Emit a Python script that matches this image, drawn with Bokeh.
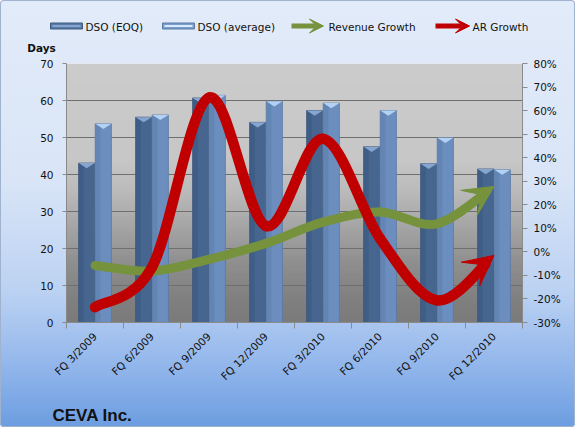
import numpy as np
from bokeh.plotting import figure
from bokeh.layouts import column
from bokeh.models import (Range1d, LinearAxis, FixedTicker, PrintfTickFormatter,
                          Label, Arrow, VeeHead)
from bokeh.embed import file_html
from bokeh.resources import INLINE

# ---------------- data ----------------
categories = ["FQ 3/2009", "FQ 6/2009", "FQ 9/2009", "FQ 12/2009",
              "FQ 3/2010", "FQ 6/2010", "FQ 9/2010", "FQ 12/2010"]
dso_eoq = [43.1, 55.5, 60.7, 54.1, 57.3, 47.5, 42.9, 41.5]
dso_avg = [53.7, 56.1, 61.4, 59.8, 59.3, 57.3, 49.9, 41.3]
revenue_growth = [-5.8, -8.2, -3.2, 3.6, 12.6, 16.9, 11.9, 27.8]
ar_growth = [-23.5, -6.5, 65.5, 11.0, 48.0, 5.7, -20.6, -1.5]
days_ticks = [0, 10, 20, 30, 40, 50, 60, 70]
pct_ticks = [-30, -20, -10, 0, 10, 20, 30, 40, 50, 60, 70, 80]
series_names = ["DSO (EOQ)", "DSO (average)", "Revenue Growth", "AR Growth"]
title_text = "CEVA Inc."
y_title = "Days"

# ---------------- styles ----------------
EOQ_COLOR = "#46668f"
AVG_COLOR = "#6b8ebe"
GREEN = "#76923c"
RED = "#c00000"
FONT = "DejaVu Sans"
TXT = "#111111"
W = 575
HEAD_H, MAIN_H, FOOT_H = 56, 334, 37

n = len(categories)
centers = [i + 0.5 for i in range(n)]


def no_align(f):
    try:
        f.frame_align = False
    except Exception:
        pass


def blank(height):
    f = figure(width=W, height=height, output_backend="svg", toolbar_location=None,
               x_range=Range1d(0, W), y_range=Range1d(height, 0),
               x_axis_type=None, y_axis_type=None, min_border=0,
               min_border_left=0, min_border_right=0,
               min_border_top=0, min_border_bottom=0)
    f.grid.visible = False
    f.outline_line_color = None
    f.background_fill_alpha = 0
    f.border_fill_alpha = 0
    no_align(f)
    return f


# ---------------- header: legend + "Days" ----------------
head = blank(HEAD_H)
LY = 25.5
# swatches: outer box + lighter inner band
head.quad(left=[50, 162], right=[82, 194], top=[LY - 3, LY - 3], bottom=[LY + 3, LY + 3],
          fill_color=["#587aa6", "#7b9dca"], line_color=["#3e5a80", "#5a7aa5"], line_width=1)
head.quad(left=[52, 164], right=[80, 192], top=[LY - 1, LY - 1], bottom=[LY + 1, LY + 1],
          fill_color=["#86a4cd", "#d6e9fd"], line_color=None)
head.add_layout(Arrow(x_start=291, y_start=LY, x_end=323, y_end=LY,
                      line_color=GREEN, line_width=5,
                      end=VeeHead(size=14, fill_color=GREEN, line_color=GREEN)))
head.add_layout(Arrow(x_start=435, y_start=LY, x_end=469, y_end=LY,
                      line_color=RED, line_width=5,
                      end=VeeHead(size=14, fill_color=RED, line_color=RED)))
for x, txt in zip([85, 197, 328, 472], series_names):
    head.add_layout(Label(x=x, y=LY + 0.5, text=txt, text_font=FONT,
                          text_font_size="10.5px", text_color=TXT,
                          text_baseline="middle", text_align="left"))
head.add_layout(Label(x=41, y=47, text=y_title, text_font=FONT,
                      text_font_size="10.5px", text_font_style="bold",
                      text_color=TXT, text_baseline="middle", text_align="center"))

# ---------------- main chart ----------------
p = figure(width=W, height=MAIN_H, output_backend="svg", toolbar_location=None,
           x_range=Range1d(0, n), y_range=Range1d(days_ticks[0], days_ticks[-1]),
           min_border_left=66, min_border_right=53, min_border_top=7,
           min_border_bottom=68)
no_align(p)
p.extra_y_ranges = {"pct": Range1d(pct_ticks[0], pct_ticks[-1])}
p.border_fill_alpha = 0
p.outline_line_color = None

# plot-area gray gradient (decorative)
rows = 140
vals = np.linspace(days_ticks[0], days_ticks[-1], rows)
gray = np.interp(vals, [0, 6, 16, 26, 36, 44, 70],
                 [0x7b, 0x80, 0x8f, 0xa6, 0xbc, 0xc7, 0xcc]).astype(np.uint8)
img = np.empty((rows, 1), dtype=np.uint32)
v = img.view(dtype=np.uint8).reshape((rows, 1, 4))
v[:, 0, 0] = gray
v[:, 0, 1] = gray
v[:, 0, 2] = gray
v[:, 0, 3] = 255
bg = p.image_rgba(image=[img], x=0, y=days_ticks[0], dw=n,
                  dh=days_ticks[-1] - days_ticks[0])
bg.level = "image"

p.xgrid.visible = False
p.ygrid.ticker = FixedTicker(ticks=days_ticks)
p.ygrid.grid_line_color = "#6f6f6f"
p.ygrid.grid_line_width = 1

# bars
bw = 0.285
off = 0.146
x_eoq = [c - off for c in centers]
x_avg = [c + off for c in centers]
p.vbar(x=x_eoq, top=dso_eoq, bottom=0, width=bw,
       fill_color=EOQ_COLOR, line_color="#3a5679", line_alpha=0.7)
p.vbar(x=x_avg, top=dso_avg, bottom=0, width=bw,
       fill_color=AVG_COLOR, line_color="#56769f", line_alpha=0.7)
p.vbar(x=[x - bw * 0.33 for x in x_eoq], top=dso_eoq, bottom=0, width=bw * 0.3,
       fill_color="#3a5882", line_color=None, fill_alpha=0.6)
p.vbar(x=[x - bw * 0.33 for x in x_avg], top=dso_avg, bottom=0, width=bw * 0.3,
       fill_color="#5c7fae", line_color=None, fill_alpha=0.6)

# light triangular caps at the top of each bar (cylinder look)
cap_h = 1.4  # days
for xs_, tops, col in [(x_eoq, dso_eoq, "#86a5cf"), (x_avg, dso_avg, "#b2d1f3")]:
    p.patches(xs=[[x - bw / 2, x + bw / 2, x] for x in xs_],
              ys=[[t, t, t - cap_h] for t in tops],
              fill_color=col, line_color=None)


def bezier_segments(xs, ys):
    segs = []
    m = len(xs)
    for i in range(m - 1):
        xp, yp = (xs[i - 1], ys[i - 1]) if i > 0 else (xs[i], ys[i])
        xn, yn = (xs[i + 2], ys[i + 2]) if i + 2 < m else (xs[i + 1], ys[i + 1])
        c0 = (xs[i] + (xs[i + 1] - xp) / 6.0, ys[i] + (ys[i + 1] - yp) / 6.0)
        c1 = (xs[i + 1] - (xn - xs[i]) / 6.0, ys[i + 1] - (yn - ys[i]) / 6.0)
        segs.append(((xs[i], ys[i]), c0, c1, (xs[i + 1], ys[i + 1])))
    return segs


def split(seg, t):
    p0, p1, p2, p3 = [np.array(q, dtype=float) for q in seg]
    a = p0 + (p1 - p0) * t
    b = p1 + (p2 - p1) * t
    c = p2 + (p3 - p2) * t
    d = a + (b - a) * t
    e = b + (c - b) * t
    f = d + (e - d) * t
    return (tuple(p0), tuple(a), tuple(d), tuple(f))


def draw_curve(ys, color, lw, head_size):
    segs = bezier_segments(centers, ys)
    last = segs[-1]
    segs_draw = segs[:-1] + [split(last, 0.78)]
    p.bezier(x0=[s[0][0] for s in segs_draw], y0=[s[0][1] for s in segs_draw],
             cx0=[s[1][0] for s in segs_draw], cy0=[s[1][1] for s in segs_draw],
             cx1=[s[2][0] for s in segs_draw], cy1=[s[2][1] for s in segs_draw],
             x1=[s[3][0] for s in segs_draw], y1=[s[3][1] for s in segs_draw],
             line_color=color, line_width=lw, line_cap="round", y_range_name="pct")
    p.add_layout(Arrow(x_start=last[2][0], y_start=last[2][1],
                       x_end=last[3][0], y_end=last[3][1], y_range_name="pct",
                       line_alpha=0,
                       end=VeeHead(size=head_size, fill_color=color, line_color=color)))


draw_curve(revenue_growth, GREEN, 9, 30)
draw_curve(ar_growth, RED, 10.5, 30)

# axes
xa = p.xaxis[0]
xa.ticker = FixedTicker(ticks=centers, minor_ticks=list(range(n + 1)))
xa.major_label_overrides = {c: lab for c, lab in zip(centers, categories)}
xa.major_label_orientation = np.pi / 4
xa.major_tick_line_color = None
xa.minor_tick_in = 0
xa.minor_tick_out = 6
xa.minor_tick_line_color = "#8a8a8a"
xa.axis_line_color = "#8a8a8a"
xa.major_label_text_font = FONT
xa.major_label_text_font_size = "10.5px"
xa.major_label_text_color = TXT
xa.major_label_standoff = 6

ya = p.yaxis[0]
ya.ticker = FixedTicker(ticks=days_ticks)
ya.minor_tick_line_color = None
ya.major_tick_in = 0
ya.major_tick_out = 4
ya.major_tick_line_color = "#8a8a8a"
ya.axis_line_color = "#8a8a8a"
ya.major_label_text_font = FONT
ya.major_label_text_font_size = "10.5px"
ya.major_label_text_color = TXT
ya.major_label_standoff = 9

ra = LinearAxis(y_range_name="pct", ticker=FixedTicker(ticks=pct_ticks),
                formatter=PrintfTickFormatter(format="%d%%"))
ra.minor_tick_line_color = None
ra.major_tick_in = 0
ra.major_tick_out = 5
ra.major_tick_line_color = "#8a8a8a"
ra.axis_line_color = "#8a8a8a"
ra.major_label_text_font = FONT
ra.major_label_text_font_size = "10.5px"
ra.major_label_text_color = TXT
ra.major_label_standoff = 6
p.add_layout(ra, "right")

# ---------------- footer: company name ----------------
foot = blank(FOOT_H)
foot.add_layout(Label(x=52, y=25, text=title_text, text_font="Liberation Sans",
                      text_font_size="17px", text_font_style="bold",
                      text_color=TXT, text_baseline="alphabetic", text_align="left"))

layout = column(head, p, foot, spacing=0, styles={
    "background": "linear-gradient(to bottom, #e2ebf9 0%, #d9e5f7 42%, #bcd2f2 68%, #96b9ec 84%, #6c9de0 100%)",
    "box-shadow": "inset 0 0 0 1px #9fb3cf",
    "border-radius": "4px",
})

open("out.html", "w").write(file_html(layout, INLINE))
